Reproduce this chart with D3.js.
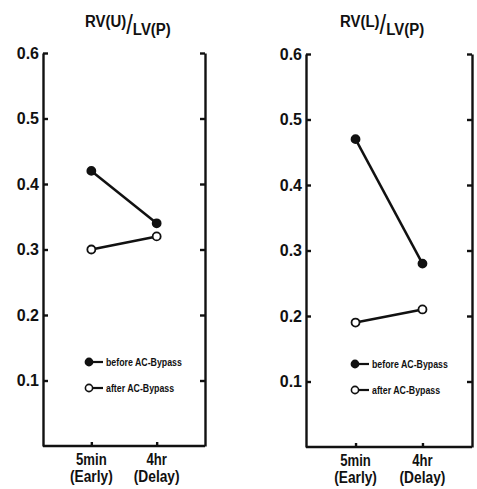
<!DOCTYPE html>
<html>
<head>
<meta charset="utf-8">
<script src="https://cdn.jsdelivr.net/npm/d3@7"></script>
<style>
  html, body { margin: 0; padding: 0; background: #fff; }
  svg { display: block; }
  text { font-family: "Liberation Sans", Arial, Helvetica, sans-serif; fill: #111; }
</style>
</head>
<body>
<svg id="chart" width="477" height="489"></svg>
<script>
// Sampling times on the x axis
const timepoints = ["5min", "4hr"];
const timepointSub = ["(Early)", "(Delay)"];

// RV(U)/LV(P) ratios
const upperBefore = [0.42, 0.34];
const upperAfter  = [0.30, 0.32];

// RV(L)/LV(P) ratios
const lowerBefore = [0.47, 0.28];
const lowerAfter  = [0.19, 0.21];

const yTicks = [0.1, 0.2, 0.3, 0.4, 0.5, 0.6];
const legendLabels = ["before AC-Bypass", "after AC-Bypass"];

const svg = d3.select("#chart");

// Horizontally condensed text anchored at (x, y)
function label(g, x, y, str, size, opts = {}) {
  const t = g.append("text")
    .attr("transform", `translate(${x},${y}) scale(${opts.sx || 1},1)`)
    .attr("text-anchor", opts.anchor || "start")
    .style("font-size", size + "px")
    .style("font-weight", opts.weight || "normal");
  if (str !== null) t.text(str);
  return t;
}

const panels = [
  { left: 43,  right: 205, top: 53, bottom: 446, title: ["RV(U)", "LV(P)"], titleX: 85,
    before: upperBefore, after: upperAfter, legendY: 362, legendX: 89 },
  { left: 306, right: 472, top: 54, bottom: 447, title: ["RV(L)", "LV(P)"], titleX: 340,
    before: lowerBefore, after: lowerAfter, legendY: 364, legendX: 355 }
];

panels.forEach(p => {
  const g = svg.append("g");

  const y = d3.scaleLinear().domain([0, 0.6]).range([p.bottom, p.top]);
  const x = d3.scalePoint().domain(timepoints).range([p.left, p.right]).padding(0.74);

  // Left axis with labelled ticks pointing inward
  const leftAxis = g.append("g")
    .attr("transform", `translate(${p.left},0)`)
    .call(d3.axisLeft(y).tickValues(yTicks).tickSizeInner(-5).tickSizeOuter(0)
      .tickPadding(4).tickFormat(d3.format(".1f")));
  leftAxis.selectAll("text")
    .style("font-size", "16px").style("font-weight", "bold").attr("fill", "#111");

  // Right axis: ticks only
  g.append("g")
    .attr("transform", `translate(${p.right},0)`)
    .call(d3.axisRight(y).tickValues(yTicks).tickSizeInner(-5).tickSizeOuter(0).tickFormat(""));

  // Bottom axis: ticks only, labels drawn in two lines below
  g.append("g")
    .attr("transform", `translate(0,${p.bottom})`)
    .call(d3.axisBottom(x).tickSizeInner(-4).tickSizeOuter(0).tickFormat(""))
    .select(".domain").attr("d", `M${p.left},0H${p.right}`);

  g.selectAll(".domain, .tick line").attr("stroke", "#111").attr("stroke-width", 2.4);

  timepoints.forEach((t, i) => {
    label(g, x(t), p.bottom + 19, t, 16, { anchor: "middle", sx: 0.82, weight: "bold" });
    label(g, x(t), p.bottom + 36, timepointSub[i], 16, { anchor: "middle", sx: 0.86, weight: "bold" });
  });

  // Title: numerator raised, long slash, denominator lowered
  const title = label(g, p.titleX, 27, null, 17, { sx: 0.88, weight: "bold" });
  title.append("tspan").text(p.title[0]);
  title.append("tspan").attr("dx", 0).attr("dy", 7).style("font-size", "27px").style("font-weight", "normal").text("/");
  title.append("tspan").attr("dx", 0).attr("dy", 1).style("font-size", "17px").text(p.title[1]);

  // Series
  const series = [
    { values: p.before, fill: "#111" },
    { values: p.after,  fill: "#fff" }
  ];
  const line = d3.line().x((d, i) => x(timepoints[i])).y(d => y(d));
  series.forEach(s => {
    g.append("path").datum(s.values).attr("d", line)
      .attr("fill", "none").attr("stroke", "#111").attr("stroke-width", 2.5);
    g.selectAll(null).data(s.values).enter().append("circle")
      .attr("cx", (d, i) => x(timepoints[i])).attr("cy", d => y(d)).attr("r", 4)
      .attr("fill", s.fill).attr("stroke", "#111").attr("stroke-width", 1.8);
  });

  // Legend
  series.forEach((s, i) => {
    const ly = p.legendY + i * 26;
    g.append("line").attr("x1", p.legendX).attr("x2", p.legendX + 14)
      .attr("y1", ly).attr("y2", ly).attr("stroke", "#111").attr("stroke-width", 2.2);
    g.append("circle").attr("cx", p.legendX).attr("cy", ly).attr("r", 3.6)
      .attr("fill", s.fill).attr("stroke", "#111").attr("stroke-width", 1.6);
    label(g, p.legendX + 17, ly + 4, legendLabels[i], 11, { weight: "bold", sx: 0.8 });
  });
});
</script>
</body>
</html>
